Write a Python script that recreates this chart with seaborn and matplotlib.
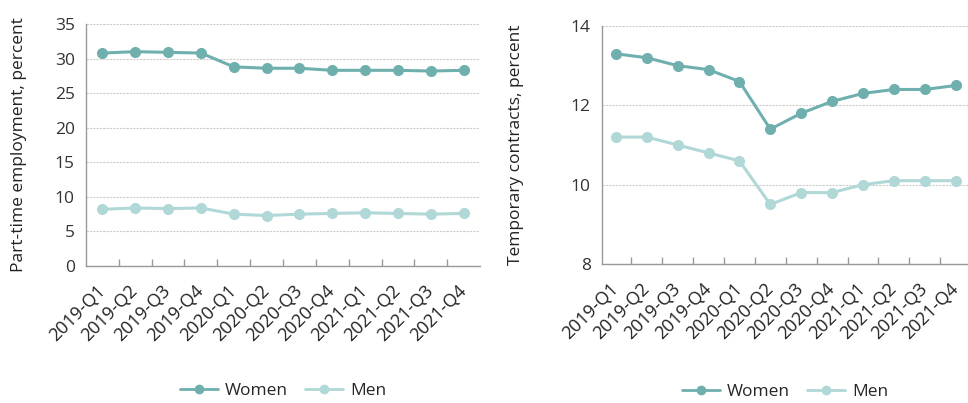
import matplotlib
matplotlib.use("Agg")
import matplotlib.pyplot as plt
import seaborn as sns
import pandas as pd
import numpy as np
from matplotlib.lines import Line2D

quarters = ["2019-Q1", "2019-Q2", "2019-Q3", "2019-Q4",
            "2020-Q1", "2020-Q2", "2020-Q3", "2020-Q4",
            "2021-Q1", "2021-Q2", "2021-Q3", "2021-Q4"]
parttime_women = [30.8, 31.0, 30.9, 30.8, 28.8, 28.6, 28.6, 28.3, 28.3, 28.3, 28.2, 28.3]
parttime_men = [8.2, 8.4, 8.3, 8.4, 7.5, 7.3, 7.5, 7.6, 7.7, 7.6, 7.5, 7.6]
temp_women = [13.3, 13.2, 13.0, 12.9, 12.6, 11.4, 11.8, 12.1, 12.3, 12.4, 12.4, 12.5]
temp_men = [11.2, 11.2, 11.0, 10.8, 10.6, 9.5, 9.8, 9.8, 10.0, 10.1, 10.1, 10.1]

sns.set_theme(style="white")
plt.rcParams['font.family'] = ['Open Sans', 'DejaVu Sans']

WOMEN_C = "#6fb0ae"
MEN_C = "#b0d8d6"
palette = {"Women": WOMEN_C, "Men": MEN_C}

def make_df(w, m):
    return pd.DataFrame({
        "quarter": quarters * 2,
        "x": list(range(len(quarters))) * 2,
        "value": w + m,
        "sex": ["Women"] * len(w) + ["Men"] * len(m),
    })

fig = plt.figure(figsize=(9.68, 4.03), dpi=100)
W, H = 968, 403
ax1 = fig.add_axes([86 / W, (H - 266) / H, (480 - 86) / W, (266 - 24) / H])
ax2 = fig.add_axes([602 / W, (H - 264) / H, (968 - 602) / W, (264 - 26) / H])

def draw(ax, df, ylim, yticks, ylabel, xlim, legend_y, labelpad):
    sns.lineplot(data=df, x="x", y="value", hue="sex", hue_order=["Men", "Women"],
                 palette=palette, marker="o", markersize=8, markeredgewidth=0,
                 linewidth=2.2, ax=ax, legend=False)
    ax.set_ylim(*ylim)
    ax.set_yticks(yticks)
    ax.set_yticklabels([str(t) for t in yticks], fontsize=12.5, color="#333333")
    ax.set_xlim(*xlim)
    ax.set_xticks(range(len(quarters)))
    ax.set_xticklabels(quarters, rotation=45, ha="right", va="center",
                       rotation_mode="anchor", fontsize=13, color="#222222")
    ax.set_xticks(np.arange(0.5, len(quarters) - 0.5, 1), minor=True)
    ax.tick_params(axis="x", which="major", length=0, pad=16)
    ax.tick_params(axis="x", which="minor", direction="in", length=5,
                   color="#999999", width=1, bottom=True)
    ax.tick_params(axis="y", length=0, pad=8)
    ax.set_xlabel("")
    ax.set_ylabel(ylabel, fontsize=12.5, color="#222222", labelpad=labelpad)
    ax.grid(axis="y", color="#cccccc", linestyle=(0, (2, 1)), linewidth=0.8)
    ax.set_axisbelow(True)
    for s in ["top", "right"]:
        ax.spines[s].set_visible(False)
    for s in ["left", "bottom"]:
        ax.spines[s].set_color("#999999")
        ax.spines[s].set_linewidth(1)
    handles = [Line2D([0], [0], color=WOMEN_C, marker="o", markersize=6, lw=2),
               Line2D([0], [0], color=MEN_C, marker="o", markersize=6, lw=2)]
    ax.legend(handles, ["Women", "Men"], loc="upper center",
              bbox_to_anchor=(0.5, legend_y), ncol=2, frameon=False,
              fontsize=12.5, handlelength=2.2, columnspacing=1.0,
              handletextpad=0.4)

draw(ax1, make_df(parttime_women, parttime_men), (0, 35), list(range(0, 36, 5)),
     "Part-time employment, percent", (-0.5, 11.5), -0.42, 20)
draw(ax2, make_df(temp_women, temp_men), (8, 14), [8, 10, 12, 14],
     "Temporary contracts, percent", (-0.45, 11.4), -0.44, 34)

fig.savefig("out.png", dpi=100)
